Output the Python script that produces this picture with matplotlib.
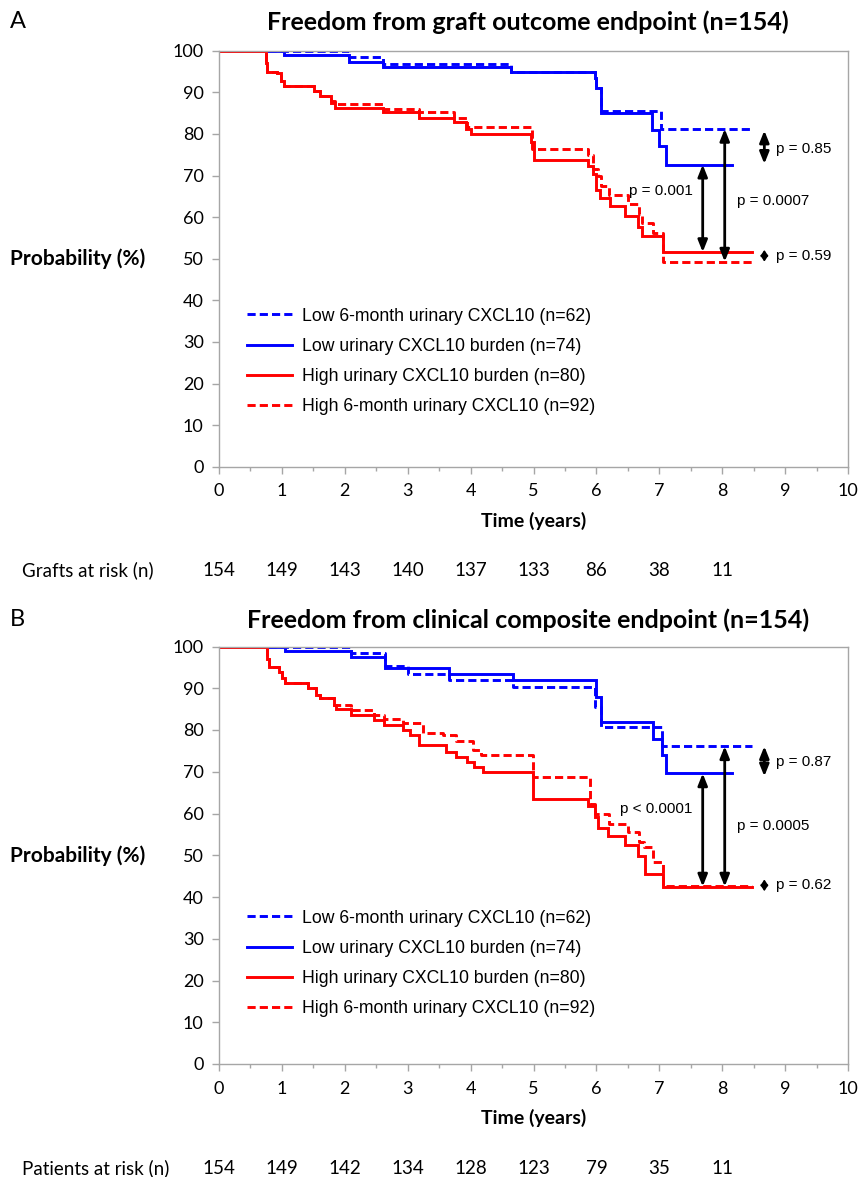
import matplotlib
matplotlib.use("Agg")
import matplotlib.pyplot as plt
from matplotlib.lines import Line2D
import matplotlib.transforms as mtransforms

# ---------------- data ----------------
# Panel A: graft outcome endpoint
a_low6_t = [0, 2.07, 2.6, 4.64, 5.97, 6.0, 6.08, 7.03, 8.47]
a_low6_p = [100, 98.5, 96.9, 95.0, 93.5, 91.0, 85.6, 81.2, 81.2]
a_lowb_t = [0, 1.03, 2.07, 2.6, 4.64, 5.97, 6.0, 6.08, 6.89, 7.0, 7.1, 8.15]
a_lowb_p = [100, 98.9, 97.4, 96.2, 94.8, 93.5, 91.0, 85.0, 81.0, 77.0, 72.6, 72.6]
a_highb_t = [0, 0.74, 0.77, 0.93, 0.98, 1.03, 1.51, 1.6, 1.78, 1.85, 2.6, 3.18, 3.74, 3.93,
             4.0, 4.96, 5.0, 5.87, 5.95, 6.0, 6.05, 6.21, 6.46, 6.66, 6.73, 7.06, 8.47]
a_highb_p = [100, 97, 95.0, 94.6, 92.6, 91.4, 90.2, 89.0, 87.4, 86.2, 85.2, 83.8, 82.8, 81.2,
             80.0, 78.0, 73.8, 72.2, 70.3, 66.6, 64.6, 62.6, 60.2, 57.6, 55.4, 51.6, 51.6]
a_high6_t = [0, 0.74, 0.77, 0.93, 0.98, 1.03, 1.51, 1.6, 1.78, 1.85, 2.6, 3.18, 3.74, 3.95,
             4.97, 5.87, 5.95, 6.02, 6.07, 6.2, 6.5, 6.67, 6.73, 6.9, 7.06, 8.47]
a_high6_p = [100, 97, 95.0, 94.6, 92.6, 91.4, 90.2, 89.0, 87.8, 87.2, 86.1, 85.2, 83.8, 81.7,
             76.4, 75.0, 71.5, 69.8, 67.5, 65.2, 63.1, 60.8, 58.7, 56.1, 49.3, 49.3]

# Panel B: clinical composite endpoint
b_low6_t = [0, 2.1, 2.64, 3.0, 3.66, 4.67, 5.97, 6.08, 7.04, 8.47]
b_low6_p = [100, 98.5, 95.3, 93.5, 91.9, 90.2, 85.6, 80.6, 76.1, 76.1]
b_lowb_t = [0, 1.05, 2.1, 2.64, 3.66, 4.67, 6.0, 6.08, 6.9, 7.04, 7.1, 8.16]
b_lowb_p = [100, 98.9, 97.4, 94.9, 93.4, 92.0, 88.0, 81.8, 77.8, 74.1, 69.6, 69.6]
b_highb_t = [0, 0.77, 0.8, 0.95, 1.0, 1.05, 1.41, 1.54, 1.6, 1.83, 1.86, 2.1, 2.47, 2.62, 2.92,
             3.03, 3.18, 3.61, 3.77, 3.95, 4.06, 4.19, 4.99, 5.87, 5.98, 6.03, 6.18, 6.46,
             6.66, 6.78, 7.06, 8.47]
b_highb_p = [100, 97, 95.1, 94, 92.5, 91.2, 90, 88.4, 87.6, 86, 85, 83.6, 82.4, 81.2, 80,
             78.8, 76.4, 74.8, 73.6, 72.4, 71.2, 70, 63.5, 61.9, 59.1, 56.5, 54.7, 52.5,
             49.9, 45.5, 42.5, 42.5]
b_high6_t = [0, 0.77, 0.8, 0.95, 1.0, 1.05, 1.41, 1.54, 1.6, 1.83, 2.1, 2.47, 2.62, 2.92,
             3.24, 3.56, 3.77, 4.04, 4.17, 4.99, 5.9, 5.97, 6.2, 6.5, 6.67, 6.75, 6.9, 7.06, 8.47]
b_high6_p = [100, 97, 95.1, 94, 92.5, 91.2, 90, 88.4, 87.6, 86, 84.8, 83.6, 82.7, 81.6,
             79.4, 78.8, 77.3, 75.2, 74.1, 68.7, 62.3, 60.0, 57.5, 55.5, 53.1, 52.0, 48.3,
             42.7, 42.7]

labels = ["Low 6-month urinary CXCL10 (n=62)", "Low urinary CXCL10 burden (n=74)",
          "High urinary CXCL10 burden (n=80)", "High 6-month urinary CXCL10 (n=92)"]

risk_years = [0, 1, 2, 3, 4, 5, 6, 7, 8]
a_risk = ["154", "149", "143", "140", "137", "133", "86", "38", "11"]
b_risk = ["154", "149", "142", "134", "128", "123", "79", "35", "11"]

# p-value annotations: (x, y_top, y_bottom)
a_arrows = [(7.69, 72.6, 51.6), (8.04, 81.2, 49.3), (8.67, 80.8, 72.8), (8.67, 52.1, 49.3)]
a_ptexts = [("p = 0.001", 7.53, 66.2, "right"), ("p = 0.0007", 8.23, 63.8, "left"),
            ("p = 0.85", 8.85, 76.4, "left"), ("p = 0.59", 8.85, 50.7, "left")]
b_arrows = [(7.69, 69.6, 42.5), (8.04, 76.1, 42.5), (8.67, 76.1, 68.9), (8.67, 44.2, 41.4)]
b_ptexts = [("p < 0.0001", 7.53, 61.1, "right"), ("p = 0.0005", 8.23, 57.1, "left"),
            ("p = 0.87", 8.85, 72.3, "left"), ("p = 0.62", 8.85, 42.8, "left")]

# ---------------- style ----------------
BLUE = "#0000FF"
RED = "#FF0000"
GRAY = "#A6A6A6"
LW = 2.1
DASH = (0, (2.8, 1.4))
CAL = "Lato"
ARIAL = "Liberation Sans"

W, H = 862, 1177
fig = plt.figure(figsize=(W / 100, H / 100), dpi=100)


def fx(px):
    return px / W


def fy(py):
    return 1 - py / H


def panel(top_px, bot_px, series, arrows, ptexts, title, letter, title_y, risk_label, risk, leg_center):
    ax = fig.add_axes([fx(219), fy(bot_px), fx(848) - fx(219), fy(top_px) - fy(bot_px)])
    (l6t, l6p), (lbt, lbp), (hbt, hbp), (h6t, h6p) = series
    ax.step(lbt, lbp, where="post", color=BLUE, lw=LW, solid_joinstyle="miter")
    ax.step(l6t, l6p, where="post", color=BLUE, lw=LW, linestyle=DASH)
    ax.step(hbt, hbp, where="post", color=RED, lw=LW, solid_joinstyle="miter")
    ax.step(h6t, h6p, where="post", color=RED, lw=LW, linestyle=DASH)
    ax.set_xlim(0, 10)
    ax.set_ylim(0, 100)
    ax.set_xticks(range(0, 11))
    ax.set_xticks([i + 0.5 for i in range(10)], minor=True)
    ax.set_yticks(range(0, 101, 10))
    for s in ax.spines.values():
        s.set_color(GRAY)
        s.set_linewidth(1.0)
    ax.tick_params(axis="both", which="major", color=GRAY, length=5, width=1.0,
                   labelsize=13, labelcolor="black")
    ax.tick_params(axis="x", which="major", pad=7)
    ax.tick_params(axis="y", which="major", pad=6)
    ax.tick_params(axis="x", which="minor", color=GRAY, length=3, width=1.0)
    for lab in ax.get_xticklabels() + ax.get_yticklabels():
        lab.set_fontfamily(CAL)
    ax.set_xlabel("Time (years)", fontfamily=CAL, fontweight="bold", fontsize=14, labelpad=9)

    handles = [Line2D([], [], color=BLUE, lw=LW, linestyle=DASH),
               Line2D([], [], color=BLUE, lw=LW),
               Line2D([], [], color=RED, lw=LW),
               Line2D([], [], color=RED, lw=LW, linestyle=DASH)]
    ax.legend(handles, labels, loc="center left", bbox_to_anchor=(0.045, leg_center / 100),
              frameon=False, prop={"family": ARIAL, "size": 12.7}, handlelength=2.56,
              handletextpad=0.55, labelspacing=0.75, borderpad=0, borderaxespad=0)

    for x, y1, y2 in arrows:
        small = abs(y1 - y2) < 4
        if small:
            style = "<|-|>,head_length=0.33,head_width=0.22"
            lw = 1.2
        else:
            style = "<|-|>,head_length=0.7,head_width=0.28"
            lw = 2.0
        ax.annotate("", xy=(x, y2), xytext=(x, y1),
                    arrowprops=dict(arrowstyle=style, color="black", lw=lw,
                                    shrinkA=0, shrinkB=0))
    for txt, x, y, ha in ptexts:
        ax.text(x, y, txt, ha=ha, va="center", fontfamily=ARIAL, fontsize=11)

    fig.text(fx(10), fy(top_px + (bot_px - top_px) * 0.5), "Probability (%)", ha="left", va="center",
             fontfamily=CAL, fontweight="bold", fontsize=15)
    fig.text(fx(528), fy(title_y), title, ha="center", va="center", fontfamily=CAL,
             fontweight="bold", fontsize=18)
    fig.text(fx(10), fy(title_y), letter, ha="left", va="center", fontfamily=CAL, fontsize=17)

    trans = mtransforms.blended_transform_factory(ax.transData, fig.transFigure)
    ry = fy(bot_px + 104)
    fig.text(fx(22), ry, risk_label, ha="left", va="center", fontfamily=CAL, fontsize=13.5)
    for yr, n in zip(risk_years, risk):
        ax.text(yr, ry, n, transform=trans, ha="center", va="center", fontfamily=CAL,
                fontsize=13.5)
    return ax


panel(50.7, 466.7,
      [(a_low6_t, a_low6_p), (a_lowb_t, a_lowb_p), (a_highb_t, a_highb_p), (a_high6_t, a_high6_p)],
      a_arrows, a_ptexts, "Freedom from graft outcome endpoint (n=154)", "A", 22,
      "Grafts at risk (n)", a_risk, 25.3)
panel(646.5, 1064,
      [(b_low6_t, b_low6_p), (b_lowb_t, b_lowb_p), (b_highb_t, b_highb_p), (b_high6_t, b_high6_p)],
      b_arrows, b_ptexts, "Freedom from clinical composite endpoint (n=154)", "B", 620,
      "Patients at risk (n)", b_risk, 24.1)

fig.savefig("out.png", dpi=100)
